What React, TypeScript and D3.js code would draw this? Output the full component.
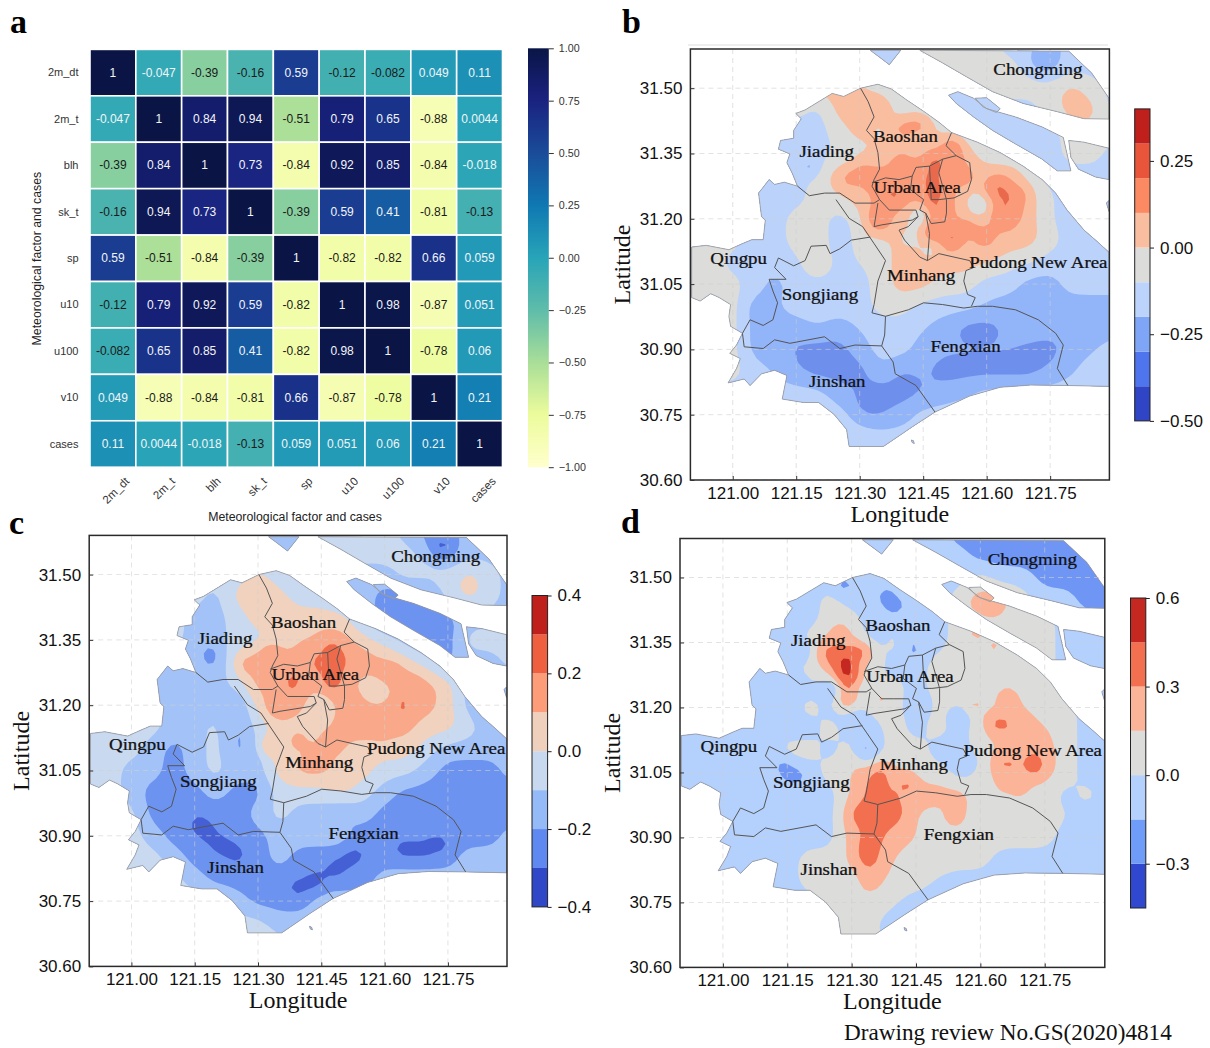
import React, { useEffect, useRef } from "react";
import * as d3 from "d3";

// ---- panel a: correlation matrix ----
const factors = ["2m_dt", "2m_t", "blh", "sk_t", "sp", "u10", "u100", "v10", "cases"];
const correlations = [
  [1, -0.047, -0.39, -0.16, 0.59, -0.12, -0.082, 0.049, 0.11],
  [-0.047, 1, 0.84, 0.94, -0.51, 0.79, 0.65, -0.88, 0.0044],
  [-0.39, 0.84, 1, 0.73, -0.84, 0.92, 0.85, -0.84, -0.018],
  [-0.16, 0.94, 0.73, 1, -0.39, 0.59, 0.41, -0.81, -0.13],
  [0.59, -0.51, -0.84, -0.39, 1, -0.82, -0.82, 0.66, 0.059],
  [-0.12, 0.79, 0.92, 0.59, -0.82, 1, 0.98, -0.87, 0.051],
  [-0.082, 0.65, 0.85, 0.41, -0.82, 0.98, 1, -0.78, 0.06],
  [0.049, -0.88, -0.84, -0.81, 0.66, -0.87, -0.78, 1, 0.21],
  [0.11, 0.0044, -0.018, -0.13, 0.059, 0.051, 0.06, 0.21, 1],
];
const corrTicks = [1, 0.75, 0.5, 0.25, 0, -0.25, -0.5, -0.75, -1];
const corrStops = [-1, -0.75, -0.5, -0.25, 0, 0.25, 0.5, 0.75, 1];
const corrColours = ["#ffffcc", "#ecfc9c", "#a9de98", "#5fbcaa", "#28a4b8", "#0f78b2", "#1a4c9a", "#1a2280", "#0a1546"];

// ---- maps: shared geometry, lon/lat ----
const lonTicks = [121, 121.15, 121.3, 121.45, 121.6, 121.75];
const latTicks = [31.5, 31.35, 31.2, 31.05, 30.9, 30.75, 30.6];
const lonDomain = [120.9, 121.89];
const latDomain = [30.6, 31.59];

const mainland = [
  [121.302, 31.5], [121.343, 31.509], [121.375, 31.498], [121.411, 31.473], [121.451, 31.447], [121.487, 31.422],
  [121.517, 31.398], [121.578, 31.376], [121.632, 31.352], [121.686, 31.321], [121.731, 31.29], [121.763, 31.259],
  [121.79, 31.22], [121.83, 31.174], [121.862, 31.147], [121.889, 31.123], [121.889, 30.815], [121.794, 30.817],
  [121.704, 30.818], [121.632, 30.813], [121.56, 30.793], [121.478, 30.756], [121.424, 30.722], [121.397, 30.704],
  [121.356, 30.677], [121.275, 30.677], [121.269, 30.716], [121.239, 30.751], [121.203, 30.778], [121.167, 30.778],
  [121.117, 30.786], [121.128, 30.84], [121.099, 30.852], [121.068, 30.844], [121.041, 30.817], [121.027, 30.832],
  [120.989, 30.823], [121.009, 30.856], [121.018, 30.879], [120.993, 30.891], [121.009, 30.91], [121.023, 30.937],
  [120.995, 30.953], [120.991, 30.976], [120.995, 31.003], [120.968, 31.019], [120.948, 31.028], [120.923, 31.011],
  [120.903, 31.019], [120.903, 31.135], [120.937, 31.139], [120.991, 31.129], [121.023, 31.143], [121.045, 31.152],
  [121.072, 31.152], [121.077, 31.197], [121.068, 31.205], [121.061, 31.259], [121.086, 31.29], [121.099, 31.279],
  [121.122, 31.284], [121.153, 31.275], [121.14, 31.306], [121.128, 31.329], [121.135, 31.349], [121.108, 31.36],
  [121.113, 31.38], [121.144, 31.385], [121.144, 31.403], [121.162, 31.43], [121.149, 31.442], [121.171, 31.45],
  [121.203, 31.469], [121.235, 31.488], [121.262, 31.481],
];
const chongming = [
  [121.442, 31.587], [121.496, 31.558], [121.551, 31.527], [121.614, 31.492], [121.686, 31.465], [121.767, 31.446],
  [121.83, 31.43], [121.889, 31.429], [121.889, 31.477], [121.848, 31.535], [121.794, 31.585],
];
const topWedge = [[121.325, 31.587], [121.397, 31.587], [121.37, 31.554], [121.343, 31.574]];
const changxing = [
  [121.51, 31.484], [121.532, 31.492], [121.569, 31.477], [121.6, 31.453], [121.668, 31.434], [121.731, 31.411],
  [121.781, 31.387], [121.799, 31.31], [121.767, 31.31], [121.731, 31.337], [121.668, 31.372], [121.614, 31.403],
  [121.569, 31.434], [121.528, 31.465],
];
const islet = [[121.573, 31.477], [121.6, 31.478], [121.632, 31.453], [121.623, 31.444], [121.591, 31.457]];
const hengsha = [
  [121.794, 31.38], [121.83, 31.376], [121.889, 31.362], [121.889, 31.29], [121.857, 31.296], [121.817, 31.314], [121.799, 31.341],
];
const edgeSliver = [[121.883, 31.236], [121.889, 31.242], [121.889, 31.217]];
const speck = [[121.422, 30.692], [121.427, 30.69], [121.429, 30.684], [121.424, 30.686]];
const landParts = [mainland, chongming, topWedge, changxing, islet, hengsha, edgeSliver, speck];

const districtLines = [
  [[121.302, 31.5], [121.32, 31.469], [121.334, 31.434], [121.316, 31.403], [121.334, 31.384], [121.343, 31.352], [121.347, 31.314], [121.334, 31.29], [121.329, 31.275]],
  [[121.153, 31.275], [121.181, 31.253], [121.217, 31.259], [121.253, 31.259], [121.289, 31.236], [121.334, 31.236], [121.347, 31.244]],
  [[121.244, 31.244], [121.275, 31.201], [121.307, 31.182], [121.334, 31.143], [121.361, 31.104], [121.343, 31.057], [121.334, 31.003], [121.329, 30.984], [121.361, 30.976], [121.415, 30.991], [121.451, 31.007], [121.496, 31.003], [121.546, 30.995], [121.578, 30.999], [121.614, 30.999], [121.668, 30.991], [121.722, 30.968], [121.763, 30.937], [121.781, 30.91], [121.767, 30.856], [121.792, 30.817]],
  [[121.325, 31.158], [121.28, 31.151], [121.253, 31.131], [121.23, 31.12], [121.221, 31.139], [121.185, 31.137], [121.171, 31.104], [121.144, 31.092], [121.108, 31.11], [121.099, 31.088], [121.126, 31.061], [121.086, 31.061], [121.095, 31.034], [121.106, 31.007], [121.095, 30.968], [121.072, 30.955], [121.041, 30.968], [121.023, 30.937], [121.027, 30.906], [121.072, 30.902], [121.099, 30.922], [121.135, 30.914], [121.217, 30.929], [121.253, 30.902], [121.289, 30.91], [121.352, 30.908]],
  [[121.361, 30.976], [121.359, 30.933], [121.352, 30.908], [121.379, 30.871], [121.384, 30.844], [121.433, 30.817], [121.478, 30.756]],
  [[121.393, 31.174], [121.406, 31.151], [121.442, 31.112], [121.46, 31.104], [121.487, 31.12], [121.523, 31.112], [121.56, 31.104], [121.569, 31.088], [121.551, 31.081], [121.546, 31.057], [121.555, 31.026], [121.573, 31.019], [121.564, 30.999]],
  [[121.517, 31.398], [121.504, 31.368], [121.528, 31.345], [121.56, 31.329], [121.564, 31.29], [121.555, 31.263], [121.523, 31.248], [121.487, 31.244]],
  [[121.528, 31.345], [121.496, 31.337], [121.487, 31.306], [121.505, 31.244], [121.505, 31.213], [121.501, 31.193], [121.469, 31.189], [121.456, 31.213], [121.465, 31.166], [121.46, 31.104]],
  [[121.329, 31.275], [121.347, 31.244], [121.37, 31.22], [121.397, 31.22], [121.433, 31.22], [121.438, 31.205], [121.415, 31.182], [121.393, 31.174]],
  [[121.329, 31.283], [121.361, 31.294], [121.393, 31.29], [121.424, 31.298], [121.433, 31.318], [121.465, 31.321], [121.496, 31.337]],
  [[121.343, 31.236], [121.334, 31.182], [121.352, 31.186], [121.424, 31.197], [121.438, 31.205]],
  [[121.424, 31.298], [121.42, 31.267], [121.451, 31.244], [121.442, 31.22], [121.456, 31.213]],
  [[121.465, 31.321], [121.469, 31.244], [121.487, 31.244]],
];

const districtNames = ["Chongming", "Baoshan", "Jiading", "Urban Area", "Qingpu", "Pudong New Area", "Minhang", "Songjiang", "Fengxian", "Jinshan"];
const districtLon = [121.721, 121.408, 121.222, 121.436, 121.014, 121.722, 121.445, 121.206, 121.55, 121.247];
const districtLat = [31.541, 31.388, 31.353, 31.27, 31.109, 31.099, 31.068, 31.025, 30.905, 30.826];

// ---- maps: colour band read at each 0.05 degree node, north to south, 120.90E to 121.90E ----
const gridLonStart = 120.9;
const gridLatStart = 31.6;
const gridStep = 0.05;
const gridScale = 4; // sub-cells per node, only to round the contours

const bandsB = [
  [3,3,3,3,3,3,3,3,3,3,3,4,4,4,4,3,3,2,3,3,3],
  [3,3,3,3,3,3,3,3,3,3,3,4,4,4,4,4,3,2,3,3,3],
  [4,4,4,4,4,5,5,5,5,4,3,3,3,3,4,4,4,4,5,4,3],
  [3,3,3,3,3,4,3,5,5,5,4,4,4,3,3,3,3,4,5,5,3],
  [3,3,3,3,3,3,3,4,5,4,5,5,4,4,3,3,3,3,4,4,4],
  [3,3,3,3,3,3,3,3.6,4,5,5.4,5,6,5,4,3,3,3,4,4,3],
  [3,3,3,3,3,3,4,5,6,6,5,6,6,5,5,6,4,3,3,3,3],
  [3,3,3,3,3,3,4,4.4,5,6,6,6,6,5,5,6,5,3.6,3,3,3],
  [3,3,3,3,3,4,4,3,4,6,5,4,6,5,5,6,5,3.5,3,3,3],
  [4,4,4,3,3,4,5,2,4.5,4,5,4,6,5,6,5,5,4,3,3,4],
  [4,4,3,3,3,3,5,3,3.5,4,5,5,5,5,4.5,4,3.6,3,3,3,3],
  [4,4,4,3,2,3,3,3,3,4,5,5,4,4,3,3,2,2,3,3,3],
  [4,4,4,2,2.4,3,3,3,3,4,4,3,3,3,2.4,2,2,2,2,2,2],
  [4,4,4,2,2,2,2.6,2,2.6,3,3,2.6,2,1,1,1.7,2,2,1.6,2,2],
  [4,4,4,2,2,1.3,1,1,2,3,3,2,1.7,1.7,1.7,1.6,1.3,1,2,2.4,3],
  [4,4,4,3,2.4,1.6,1,1,1,2.4,1.3,1.7,1,1,1,1,1,1.7,2.4,3,3],
  [3,3,3,3,3,3,3,2,1.4,1,1,1.4,2,2.4,3,3,3,3,3,3,3],
  [3,3,3,3,3,3,3,3,2,1.4,2,3,3,3,3,3,3,3,3,3,3],
  [3,3,3,3,3,3,3,3,3,3,3,3,3,3,3,3,3,3,3,3,3],
  [3,3,3,3,3,3,3,3,3,3,3,3,3,3,3,3,3,3,3,3,3],
];
const bandsC = [
  [2,2,2,2,2,2,2,2,2,2,2,3,3,3,3,2,1,1,2,2,2],
  [2,2,2,2,2,2,2,2,2,2,2,3,3,3,3,3,2,1,2,2,2],
  [3,3,3,3,3,3,3,3,4,3,2,2,2,2,2,3,3,3,4,3,2],
  [3,3,3,3,3,3,2,4,4,4,3,3,2,2,1,1,1,3,4,3,2],
  [3,3,3,3,3,2,2,3,4,4,4,4,4,2,1,1,1,1,2,2,2],
  [2,2,2,2,3,2,2,3,3,4,4,5,5,4,3,2,1,1,3,3,3],
  [2,2,2,2,2,2,1,4,5,5,5,5,6,5,5,4,3,1,2,2,3],
  [2,2,2,2,2,2,2,3,5,5,5,5,5,4,4,5,5,4,2,1,2],
  [3,3,3,3,2,2,2,1,4,5,5,3,5,5,5,5,5,4,2,1,2],
  [3,3,3,3,2,2,3,1,3,4,4,4,5,5,5,5,4,4,3,2,2],
  [3,3,3,2,1,2,3,1,2,4,4,5,4,4,4,4,3,2,2,2,2],
  [3,3,2,2,1,2,3,2,2,4,5,5,4,4,3,3,2,1,1,1,2],
  [3,3,2,1,1,1,2,1,1,3,3,3,4,3,2,1,1,1,1,1,1],
  [3,3,3,1,1,1,1,1,2,3,2,2,1,2,1,1,2,1,1,1,1],
  [3,3,3,2,1,1,1,1,1,2,2,2,2,1,1,1,1,1,1,1,2],
  [3,3,3,3,2,1,1,1,1,2,1,1,1,1,1,1,1,1,2,2,2],
  [3,3,3,3,3,2,1,1,1,1,1,1,1,1,2,2,2,2,2,2,2],
  [3,3,3,3,3,3,3,2,1,1,1,2,2,2,2,2,2,2,2,2,2],
  [3,3,3,3,3,3,3,3,3,2,2,2,2,2,2,2,2,2,2,2,2],
  [3,3,3,3,3,3,3,3,3,3,2,2,2,2,2,2,2,2,2,2,2],
];
const bandsD = [
  [2,2,2,2,2,2,2,2,2,2,2,2,2,1,1,1,1,1,1,0,0],
  [2,2,2,2,2,2,2,2,2,2,2,2,2,2,1,1,1,1,1,1,0],
  [2,2,2,2,2,2,2,2,2,2,2,2,2,2,3,2,2,1,1,1,0],
  [2,2,2,2,2,2,2,3,2,2,2,2,2,3,4,4,3,2,2,1,0.6],
  [2,2,2,2,2,2,2,3,3,2,2,2,2,3,3,3,3,3,2,2,2],
  [2,2,2,2,2,2,3,4,3,2,3,2,2,3,3,3,3,3,2,1.8,2],
  [2,2,2,2,2,2,3,4,4,3,2,2,3,3,2,3,3,3,2,2,2],
  [2,2,2,2,2,2,2,3,4,2,3,2,3,3,3,3,3,3,2,2,2],
  [2,2,2,2,2,2,3,2,2.4,3,3,2,3,3,3,3.6,3.6,3,3,2,2],
  [2,2,2,2,2,2,2,3,2,2,3,2,3,2,3,4,4,3.6,3,2,2],
  [2,2,2,2,2,3,3,2,3,2,3,3,2,2,3,3.6,4,4,3,2,2],
  [2,2,2,2,2,1.6,2,3,3.5,4.7,3.6,3,3,2,3,4,4,4,3,2,2],
  [2,2,2,2,2,2,2,2,3.6,5,4.6,4,4,4,3,3.6,3,3,2,3,2],
  [2,2,2,2,2,2,2,2,4.7,5,5,3.4,3,3.7,3,3,3,3,2.6,2,2],
  [2,2,2,2,2,2,2,2,4,5,4,3.5,3,3,3,3,3,3,2,2,2],
  [2,2,2,2,3,2,3,3,3.6,5,3.3,3,3,3,3,2,2,2,2,2,2],
  [2,2,2,2,2,2,3,3,3,4,3,3,2.4,2,2,2,2,2,2,2,2],
  [2,2,2,2,2,2,2,3,3,3,2.6,2,2,2,2,2,2,2,2,2,2],
  [2,2,2,2,2,2,2,2,3,2.6,2,2,2,2,2,2,2,2,2,2,2],
  [2,2,2,2,2,2,2,2,3,3,2,2,2,2,2,2,2,2,2,2,2],
];

// small patches the 0.05 degree grid misses: [lon, lat, band]
const spotsB = [
  [121.473,31.288,7],[121.477,31.258,7],[121.473,31.222,7],[121.344,31.192,7],[121.383,31.254,7],[121.52,31.361,7],[121.477,31.33,7],
  [121.623,31.273,7],[121.642,31.25,7],[121.662,31.238,7],[121.638,31.204,7],[121.516,31.158,7],[121.473,31.166,7],
  [121.273,31.292,6],[121.308,31.311,6],[121.426,31.311,6],[121.395,31.326,6],[121.536,31.319,6],[121.552,31.296,6],[121.6,31.258,6],
  [121.678,31.258,6],[121.67,31.22,6],[121.56,31.181,6],[121.591,31.158,6],[121.332,31.204,6],[121.465,31.196,6],[121.347,31.46,6],
  [121.426,31.422,6],[121.44,31.415,6],[121.395,31.41,6],
  [121.575,31.242,4],[121.442,31.21,3],[121.583,31.228,3],[121.47,31.13,4],[121.415,31.16,4],
  [121.18,31.32,2],[121.063,30.99,2],[121.325,30.782,0],[121.73,31.565,1],
];
const spotsC = [
  [121.475,31.281,6],[121.475,31.251,6],[121.349,31.197,6],[121.621,31.27,6],[121.657,31.243,6],[121.519,31.159,6],[121.598,31.151,6],
  [121.641,31.201,6],[121.384,31.251,6],[121.447,31.296,6],[121.475,31.327,6],[121.325,31.312,6],[121.483,31.116,6],
  [121.266,31.293,5],[121.305,31.304,5],[121.313,31.266,5],[121.408,31.327,5],[121.495,31.216,5],[121.59,31.266,5],[121.653,31.228,5],
  [121.542,31.304,5],[121.613,31.159,5],[121.542,31.143,5],[121.392,31.12,5],[121.325,31.105,5],[121.463,31.097,5],
  [121.578,31.231,3],[121.187,31.32,1],
  [121.16,30.927,0],[121.178,30.911,0],[121.206,30.884,0],[121.23,30.87,0],[121.251,30.857,0],[121.396,30.783,0],[121.42,30.79,0],[121.441,30.798,0],
  [121.486,30.826,0],[121.51,30.842,0],[121.532,30.857,0],[121.64,30.868,0],[121.665,30.87,0],[121.686,30.872,0],[121.71,30.876,0],[121.731,30.88,0],
  [121.736,31.562,0],
];
const spotsD = [
  [121.251,31.324,5],[121.27,31.324,5],[121.289,31.324,5],[121.31,31.326,5],[121.328,31.328,5],[121.274,31.293,5],[121.301,31.278,5],[121.286,31.31,5],[121.286,31.224,5],
  [121.286,31.27,6],[121.289,31.301,6],
  [121.274,31.378,4],[121.286,31.355,4],
  [121.383,31.455,1],[121.402,31.435,1],[121.282,31.481,1],[121.181,31.328,1],[121.336,31.101,1],[121.453,31.205,1],[121.142,31.063,1],[121.173,31.044,1],
  [121.445,31.336,1],[121.616,31.309,1],[121.32,31.163,1],[121.55,31.182,1],[121.251,31.24,1],[121.565,31.071,1],
  [121.662,31.224,4],[121.631,31.163,5],[121.655,31.163,5],[121.662,31.071,5],[121.725,31.078,5],[121.725,31.061,5],[121.693,31.013,4],[121.538,30.944,4],
  [121.433,31.025,5],[121.592,31.374,4],[121.631,31.336,4],[121.585,31.205,4],[121.592,31.293,4],[121.367,31.224,4],[121.6,31.44,4],[121.631,31.424,4],
  [121.367,31.048,5],[121.359,31.009,5],[121.32,30.955,5],[121.398,30.955,5],[121.335,30.88,5],[121.335,30.85,5],[121.34,30.8,4],
];

const coloursB = ["#2f45c5", "#4e74ee", "#7fa5f7", "#bcd3fb", "#dcdcda", "#f9bda0", "#fb8a63", "#e8553a", "#c0201c"];
const mapColoursB = ["#3f5cd4", "#6f8fec", "#92b4f8", "#bbd2fb", "#dcdcda", "#f9bda0", "#fb9a78", "#e9694c", "#c0201c"];
const coloursC = ["#3048c8", "#5f88f0", "#94baf8", "#c8d8ee", "#efd0bc", "#fc9c78", "#ee6040", "#c0201c"];
const mapColoursC = ["#4560d4", "#6d93f0", "#a3c3f8", "#c9d9ef", "#f0d2bf", "#f9a98a", "#ee6a4a", "#c0201c"];
const coloursD = ["#3048d0", "#6e9cf8", "#b4d0fc", "#dcdcda", "#fcb498", "#f27050", "#c42820"];
const mapColoursD = ["#3a55d8", "#6f96f4", "#b4d0fc", "#dcdcda", "#fcb498", "#f27050", "#c42820"];

const levelsB = [-0.5, -0.4, -0.3, -0.2, -0.1, 0, 0.1, 0.2, 0.3, 0.4];
const levelsC = [-0.4, -0.3, -0.2, -0.1, 0, 0.1, 0.2, 0.3, 0.4];
const levelsD = [-0.45, -0.3, -0.15, 0, 0.15, 0.3, 0.45, 0.6];
const barTicksB = [0.25, 0, -0.25, -0.5];
const barTicksC = [0.4, 0.2, 0, -0.2, -0.4];
const barTicksD = [0.6, 0.3, 0, -0.3];

const serif = "'Liberation Serif', serif";
const sans = "'Liberation Sans', sans-serif";
const minus = (s) => s.replace("-", "\u2212");

const drawHeatmap = (svg) => {
  const g = svg.append("g");
  const x = d3.scaleBand().domain(factors).range([90, 502.5]);
  const y = d3.scaleBand().domain(factors).range([49.4, 467.2]);
  const colour = d3.scaleLinear().domain(corrStops).range(corrColours);

  correlations.forEach((row, r) =>
    row.forEach((v, c) => {
      g.append("rect")
        .attr("x", x(factors[c]))
        .attr("y", y(factors[r]))
        .attr("width", x.bandwidth())
        .attr("height", y.bandwidth())
        .attr("fill", colour(v))
        .attr("stroke", "#fff")
        .attr("stroke-width", 1.6);
      g.append("text")
        .attr("x", x(factors[c]) + x.bandwidth() / 2)
        .attr("y", y(factors[r]) + y.bandwidth() / 2)
        .attr("dy", "0.33em")
        .attr("text-anchor", "middle")
        .attr("font-family", sans)
        .attr("font-size", 12)
        .attr("fill", v > -0.06 ? "#f2f5f8" : "#1a1a1a")
        .text(String(v));
    })
  );

  factors.forEach((f) => {
    g.append("text")
      .attr("x", 78.5)
      .attr("y", y(f) + y.bandwidth() / 2)
      .attr("dy", "0.33em")
      .attr("text-anchor", "end")
      .attr("font-family", sans)
      .attr("font-size", 11)
      .attr("fill", "#333")
      .text(f);
    const bx = x(f) + x.bandwidth() / 2 + 17;
    g.append("text")
      .attr("transform", `translate(${bx},482) rotate(-45)`)
      .attr("text-anchor", "end")
      .attr("font-family", sans)
      .attr("font-size", 11.5)
      .attr("fill", "#333")
      .text(f);
  });

  g.append("text")
    .attr("x", 295)
    .attr("y", 520.5)
    .attr("text-anchor", "middle")
    .attr("font-family", sans)
    .attr("font-size", 12.3)
    .attr("fill", "#222")
    .text("Meteorological factor and cases");
  g.append("text")
    .attr("transform", "translate(41,258.6) rotate(-90)")
    .attr("text-anchor", "middle")
    .attr("font-family", sans)
    .attr("font-size", 12.3)
    .attr("fill", "#222")
    .text("Meteorological factor and cases");

  // colour bar
  const bar = d3.scaleLinear().domain([-1, 1]).range([467.2, 48.3]);
  const grad = svg.append("defs").append("linearGradient").attr("id", "corrbar").attr("x1", 0).attr("x2", 0).attr("y1", 1).attr("y2", 0);
  corrStops.forEach((s, i) => {
    grad.append("stop").attr("offset", (s + 1) / 2).attr("stop-color", corrColours[i]);
  });
  g.append("rect").attr("x", 528).attr("y", 48.3).attr("width", 20.8).attr("height", 418.9).attr("fill", "url(#corrbar)");
  const axis = g.append("g").attr("transform", "translate(548.8,0)").call(
    d3.axisRight(bar).tickValues(corrTicks).tickSize(5).tickPadding(5).tickFormat((d) => minus(d3.format(".2f")(d)))
  );
  axis.select(".domain").remove();
  axis.selectAll("text").attr("font-family", sans).attr("font-size", 10.7).attr("fill", "#333");
  axis.selectAll("line").attr("stroke", "#333");
};

// repeat each node, blur to round the contours, then stamp the small patches
const smoothField = (bands, spots) => {
  const ny = bands.length;
  const nx = bands[0].length;
  const width = nx * gridScale;
  const height = ny * gridScale;
  const data = new Float64Array(width * height);
  for (let j = 0; j < height; j++) {
    for (let i = 0; i < width; i++) {
      data[j * width + i] = bands[Math.floor(j / gridScale)][Math.floor(i / gridScale)];
    }
  }
  d3.blur2({ data, width, height }, 1);
  const reach = 1.7;
  spots.forEach(([lon, lat, band]) => {
    const cx = ((lon - gridLonStart) / gridStep + 0.5) * gridScale;
    const cy = ((gridLatStart - lat) / gridStep + 0.5) * gridScale;
    for (let j = Math.max(0, Math.floor(cy - reach)); j <= Math.min(height - 1, Math.ceil(cy + reach)); j++) {
      for (let i = Math.max(0, Math.floor(cx - reach)); i <= Math.min(width - 1, Math.ceil(cx + reach)); i++) {
        if (Math.hypot(i + 0.5 - cx, j + 0.5 - cy) <= reach) data[j * width + i] = band;
      }
    }
  });
  d3.blur2({ data, width, height }, 0.4);
  return { data, width, height };
};

const drawMap = (svg, id, frame, bands, spots, colours, mapColours, levels, barTicks, barBox, barFormat) => {
  const g = svg.append("g");
  const x = d3.scaleLinear().domain(lonDomain).range([frame.left, frame.right]);
  const y = d3.scaleLinear().domain(latDomain).range([frame.bottom, frame.top]);

  const line = d3.line().x((d) => x(d[0])).y((d) => y(d[1]));
  const landPath = landParts.map((p) => line(p) + "Z").join("");

  const defs = svg.append("defs");
  defs.append("clipPath").attr("id", `land-${id}`).append("path").attr("d", landPath);
  defs.append("clipPath").attr("id", `frame-${id}`).append("rect")
    .attr("x", frame.left).attr("y", frame.top)
    .attr("width", frame.right - frame.left).attr("height", frame.bottom - frame.top);

  const inside = g.append("g").attr("clip-path", `url(#frame-${id})`);

  // filled contours from the band grid, cut to the land
  const field = smoothField(bands, spots);
  const path = d3.geoPath(
    d3.geoTransform({
      point(px, py) {
        this.stream.point(
          x(gridLonStart + (px / gridScale - 0.5) * gridStep),
          y(gridLatStart - (py / gridScale - 0.5) * gridStep)
        );
      },
    })
  );
  const thresholds = colours.slice(1).map((_, i) => i + 0.5);
  const filled = inside.append("g").attr("clip-path", `url(#land-${id})`);
  filled.append("rect")
    .attr("x", frame.left).attr("y", frame.top)
    .attr("width", frame.right - frame.left).attr("height", frame.bottom - frame.top)
    .attr("fill", mapColours[0]);
  d3.contours().size([field.width, field.height]).thresholds(thresholds)(field.data).forEach((c, i) => {
    filled.append("path").attr("d", path(c)).attr("fill", mapColours[i + 1]);
  });

  // grid
  lonTicks.forEach((t) => {
    inside.append("line").attr("x1", x(t)).attr("x2", x(t)).attr("y1", frame.top).attr("y2", frame.bottom)
      .attr("stroke", "#cfcfcf").attr("stroke-width", 0.8).attr("stroke-dasharray", "5,4").attr("opacity", 0.75);
  });
  latTicks.forEach((t) => {
    inside.append("line").attr("x1", frame.left).attr("x2", frame.right).attr("y1", y(t)).attr("y2", y(t))
      .attr("stroke", "#cfcfcf").attr("stroke-width", 0.8).attr("stroke-dasharray", "5,4").attr("opacity", 0.75);
  });

  inside.append("path").attr("d", landPath).attr("fill", "none").attr("stroke", "#9b9b9b").attr("stroke-width", 0.8);
  districtLines.forEach((d) => {
    inside.append("path").attr("d", line(d)).attr("fill", "none").attr("stroke", "#555").attr("stroke-width", 1);
  });

  districtNames.forEach((name, i) => {
    inside.append("text")
      .attr("transform", `translate(${x(districtLon[i])},${y(districtLat[i])}) scale(1.18,1)`)
      .attr("dy", "0.32em")
      .attr("text-anchor", "middle")
      .attr("font-family", serif)
      .attr("font-size", 16)
      .attr("fill", "#111")
      .attr("stroke", "#111")
      .attr("stroke-width", 0.25)
      .text(name);
  });

  g.append("rect")
    .attr("x", frame.left).attr("y", frame.top)
    .attr("width", frame.right - frame.left).attr("height", frame.bottom - frame.top)
    .attr("fill", "none").attr("stroke", "#2a2a2a").attr("stroke-width", 1.5);

  const xAxis = g.append("g").attr("transform", `translate(0,${frame.bottom})`).call(
    d3.axisBottom(x).tickValues(lonTicks).tickSizeInner(-4).tickSizeOuter(0).tickPadding(7).tickFormat(d3.format(".2f"))
  );
  const yAxis = g.append("g").attr("transform", `translate(${frame.left},0)`).call(
    d3.axisLeft(y).tickValues(latTicks).tickSizeInner(-4).tickSizeOuter(0).tickPadding(8).tickFormat(d3.format(".2f"))
  );
  [xAxis, yAxis].forEach((a) => {
    a.select(".domain").remove();
    a.selectAll("text").attr("font-family", sans).attr("font-size", 17).attr("fill", "#111");
    a.selectAll("line").attr("stroke", "#333");
  });

  g.append("text")
    .attr("x", (frame.left + frame.right) / 2)
    .attr("y", frame.bottom + 42)
    .attr("text-anchor", "middle")
    .attr("font-family", serif)
    .attr("font-size", 24)
    .attr("fill", "#111")
    .text("Longitude");
  g.append("text")
    .attr("transform", `translate(${frame.left - 60},${(frame.top + frame.bottom) / 2}) rotate(-90)`)
    .attr("text-anchor", "middle")
    .attr("font-family", serif)
    .attr("font-size", 24)
    .attr("fill", "#111")
    .text("Latitude");

  // discrete colour bar
  const bar = d3.scaleLinear().domain([levels[0], levels[levels.length - 1]]).range([barBox.bottom, barBox.top]);
  colours.forEach((c, i) => {
    g.append("rect")
      .attr("x", barBox.left)
      .attr("y", bar(levels[i + 1]))
      .attr("width", barBox.right - barBox.left)
      .attr("height", bar(levels[i]) - bar(levels[i + 1]))
      .attr("fill", c);
  });
  g.append("rect")
    .attr("x", barBox.left).attr("y", barBox.top)
    .attr("width", barBox.right - barBox.left).attr("height", barBox.bottom - barBox.top)
    .attr("fill", "none").attr("stroke", "#222").attr("stroke-width", 1);
  const barAxis = g.append("g").attr("transform", `translate(${barBox.right},0)`).call(
    d3.axisRight(bar).tickValues(barTicks).tickSize(4).tickPadding(6).tickFormat((d) => minus(d3.format(barFormat)(d)))
  );
  barAxis.select(".domain").remove();
  barAxis.selectAll("text").attr("font-family", sans).attr("font-size", 17).attr("fill", "#111");
  barAxis.selectAll("line").attr("stroke", "#222");
};

const App = () => {
  const svgRef = useRef();

  useEffect(() => {
    const svg = d3.select(svgRef.current);
    svg.selectAll("*").remove();

    drawHeatmap(svg);
    drawMap(svg, "b", { left: 690.4, right: 1109.4, top: 49, bottom: 480 }, bandsB, spotsB, coloursB, mapColoursB, levelsB, barTicksB,
      { left: 1134.7, right: 1150, top: 108.9, bottom: 420.9 }, ".2f");
    drawMap(svg, "c", { left: 89.2, right: 507, top: 535.4, bottom: 966.4 }, bandsC, spotsC, coloursC, mapColoursC, levelsC, barTicksC,
      { left: 532, right: 547.6, top: 595.5, bottom: 906.9 }, ".1f");
    drawMap(svg, "d", { left: 680, right: 1104.8, top: 538.5, bottom: 967.4 }, bandsD, spotsD, coloursD, mapColoursD, levelsD, barTicksD,
      { left: 1130.5, right: 1145.8, top: 598, bottom: 908 }, ".1f");

    // stray rule above panel b
    svg.append("line").attr("x1", 688).attr("x2", 1108).attr("y1", 45).attr("y2", 45).attr("stroke", "#ddd");

    [["a", 10, 33], ["b", 622, 33], ["c", 9, 534], ["d", 621, 533]].forEach(([letter, lx, ly]) => {
      svg.append("text").attr("x", lx).attr("y", ly)
        .attr("font-family", serif).attr("font-weight", 700).attr("font-size", 34).attr("fill", "#000")
        .text(letter);
    });
    svg.append("text").attr("x", 844).attr("y", 1040)
      .attr("font-family", serif).attr("font-size", 23.2).attr("fill", "#111")
      .text("Drawing review No.GS(2020)4814");
  }, []);

  return <svg ref={svgRef} width={1210} height={1048} style={{ position: "absolute", left: 0, top: 0, background: "#fff" }}></svg>;
};

export default App;
